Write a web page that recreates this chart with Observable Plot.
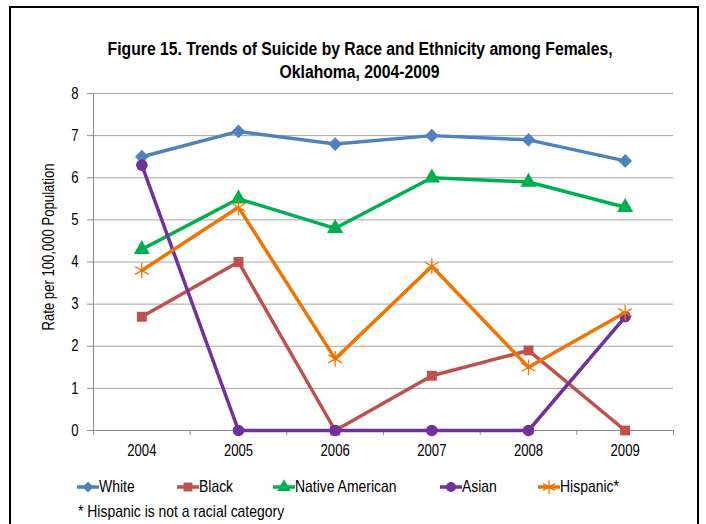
<!DOCTYPE html>
<html><head><meta charset="utf-8">
<script src="https://cdn.jsdelivr.net/npm/d3@7"></script>
<script src="https://cdn.jsdelivr.net/npm/@observablehq/plot@0.6"></script>
<style>
body{margin:0;background:#fff;font-family:"Liberation Sans",Arial,sans-serif;}
#frame{position:absolute;left:9px;top:6px;width:686px;height:540px;border:2px solid #000;}
.tline{position:absolute;left:0;width:720px;text-align:center;font-weight:bold;font-size:18px;line-height:22px;color:#000;white-space:nowrap;}
.tline span{display:inline-block;transform-origin:center;}
#chart{position:absolute;left:0;top:80px;}
#legend{position:absolute;left:0;top:476px;width:706px;height:22px;font-size:17px;color:#000;}
.item{position:absolute;top:0;display:flex;align-items:center;height:22px;white-space:nowrap;}
.item span,#note span{display:inline-block;transform-origin:left center;}
#note{position:absolute;left:78px;top:502px;font-size:17px;color:#000;white-space:nowrap;}
</style></head>
<body>
<div id="frame"></div>
<div class="tline" id="t1" style="top:38px"><span>Figure 15. Trends of Suicide by Race and Ethnicity among Females,</span></div>
<div class="tline" id="t2" style="top:61px"><span>Oklahoma, 2004-2009</span></div>
<div id="chart"></div>
<div id="legend"></div>
<div id="note"><span>* Hispanic is not a racial category</span></div>
<script>
const years = [2004, 2005, 2006, 2007, 2008, 2009];
const seriesNames = ["White", "Black", "Native American", "Asian", "Hispanic*"];
const white = [6.5, 7.1, 6.8, 7.0, 6.9, 6.4];
const black = [2.7, 4.0, 0, 1.3, 1.9, 0];
const nativeAmerican = [4.3, 5.5, 4.8, 6.0, 5.9, 5.3];
const asian = [6.3, 0, 0, 0, 0, 2.7];
const hispanic = [3.8, 5.3, 1.7, 3.9, 1.5, 2.8];
const yTicks = [0, 1, 2, 3, 4, 5, 6, 7, 8];

const colors = ["#4F81BD", "#C0504D", "#00B050", "#7030A0", "#F07400"];
const symbols = ["diamond2", "square", "triangle", "circle", "asterisk"];
const values = [white, black, nativeAmerican, asian, hispanic];

const data = seriesNames.flatMap((name, k) => years.map((year, i) => ({series: name, year, value: values[k][i]})));
const bounds = years.map(y => y - 0.5).concat([years[years.length - 1] + 0.5]);
const NARROW = 0.82;

const marks = [
  Plot.gridY(yTicks, {stroke: "#A6A6A6", strokeOpacity: 1, strokeWidth: 1}),
  Plot.ruleX([bounds[0]], {stroke: "#8C8C8C", strokeWidth: 1}),
  Plot.ruleY([0], {stroke: "#8C8C8C", strokeWidth: 1}),
  Plot.axisY({ticks: yTicks, tickSize: 6, tickPadding: 9, stroke: "#8C8C8C", label: null, fontSize: 16, fill: "#000"}),
  Plot.axisX({ticks: bounds, tickSize: 5, tickFormat: () => "", stroke: "#8C8C8C", label: null}),
  Plot.axisX({ticks: years, tickSize: 0, tickPadding: 14, tickFormat: d => String(d), label: null, fontSize: 16, fill: "#000"}),
  Plot.text(["Rate per 100,000 Population"], {frameAnchor: "left", textAnchor: "middle", dx: -45, dy: -15, rotate: -90, fontSize: 16, fill: "#000"})
];
seriesNames.forEach((name, k) => {
  const d = data.filter(r => r.series === name);
  marks.push(Plot.line(d, {x: "year", y: "value", stroke: colors[k], strokeWidth: 3.5}));
  if (symbols[k] === "asterisk") {
    marks.push(Plot.dot(d, {x: "year", y: "value", symbol: "asterisk", stroke: colors[k], strokeWidth: 1.3, r: 7.5}));
  } else {
    const r = symbols[k] === "diamond2" ? 6.2 : symbols[k] === "triangle" ? 6.0 : symbols[k] === "square" ? 5.6 : 5.8;
    marks.push(Plot.dot(d, {x: "year", y: "value", symbol: symbols[k], fill: colors[k], stroke: "none", r}));
  }
});

const chart = Plot.plot({
  width: 706, height: 390,
  marginTop: 13, marginBottom: 40, marginLeft: 93, marginRight: 33,
  style: {fontFamily: '"Liberation Sans",Arial,sans-serif', fontSize: "16px", background: "transparent", overflow: "visible"},
  x: {type: "linear", domain: [bounds[0], bounds[bounds.length - 1]]},
  y: {domain: [0, 8]},
  marks
});
document.getElementById("chart").appendChild(chart);

// condense all svg texts like a narrow face
chart.querySelectorAll("text").forEach(t => {
  const len = t.getComputedTextLength();
  if (len > 0) {
    t.setAttribute("lengthAdjust", "spacingAndGlyphs");
    t.setAttribute("textLength", (len * NARROW).toFixed(1));
  }
});

// title scaling
function fit(id, target) {
  const s = document.querySelector("#" + id + " span");
  const w = s.getBoundingClientRect().width;
  s.style.transform = `scaleX(${target / w})`;
}
fit("t1", 505);
fit("t2", 160);
document.querySelector("#note span").style.transform = `scaleX(${NARROW})`;

// legend
const legendX = [77, 177, 273, 440, 538];
const leg = document.getElementById("legend");
const ns = "http://www.w3.org/2000/svg";
const symMap = {diamond2: d3.symbolDiamond2, square: d3.symbolSquare, triangle: d3.symbolTriangle, circle: d3.symbolCircle, asterisk: d3.symbolAsterisk};
seriesNames.forEach((name, k) => {
  const div = document.createElement("div");
  div.className = "item";
  div.style.left = legendX[k] + "px";
  const svg = document.createElementNS(ns, "svg");
  svg.setAttribute("width", 22); svg.setAttribute("height", 22);
  const line = document.createElementNS(ns, "line");
  line.setAttribute("x1", 0); line.setAttribute("x2", 22); line.setAttribute("y1", 11); line.setAttribute("y2", 11);
  line.setAttribute("stroke", colors[k]); line.setAttribute("stroke-width", 3.5);
  svg.appendChild(line);
  const p = document.createElementNS(ns, "path");
  const rr = symbols[k] === "asterisk" ? 6.5 : 5;
  p.setAttribute("d", d3.symbol(symMap[symbols[k]], Math.PI * rr * rr)());
  p.setAttribute("transform", "translate(11,11)");
  if (symbols[k] === "asterisk") { p.setAttribute("fill", "none"); p.setAttribute("stroke", colors[k]); p.setAttribute("stroke-width", 1.3); }
  else p.setAttribute("fill", colors[k]);
  svg.appendChild(p);
  div.appendChild(svg);
  const span = document.createElement("span");
  span.textContent = name;
  span.style.transform = `scaleX(${NARROW})`;
  div.appendChild(span);
  leg.appendChild(div);
});
</script>
</body></html>
